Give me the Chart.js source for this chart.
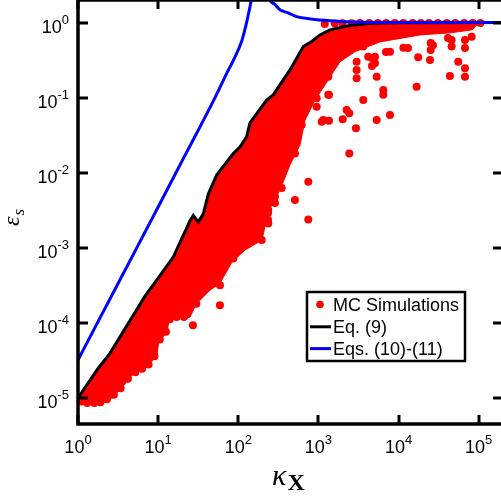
<!DOCTYPE html>
<html>
<head>
<meta charset="utf-8">
<script src="https://cdn.jsdelivr.net/npm/chart.js@4/dist/chart.umd.min.js"></script>
<style>
  html, body { margin: 0; padding: 0; background: #fff; }
  #wrap { width: 501px; height: 496px; }
</style>
</head>
<body>
<div id="wrap"><canvas id="c" width="501" height="496"></canvas></div>
<script>
// Decade ticks on both log axes
const xTickValues = [1, 10, 100, 1e3, 1e4, 1e5];
const xTickExponents = ['0', '1', '2', '3', '4', '5'];
const yTickValues = [1e-5, 1e-4, 1e-3, 1e-2, 1e-1, 1];
const yTickExponents = ['-5', '-4', '-3', '-2', '-1', '0'];

// Eq. (9)
const eq9X = [1, 1.78, 2.49, 6.86, 9.6, 15.5, 25, 27.5, 31.7, 36.6, 42.3, 53.7, 86.7, 105, 127, 140, 226, 273, 442, 648, 824, 1047, 1394, 2253, 4400, 1e4, 1.9e5];
const eq9Y = [1.0e-5, 2.47e-5, 3.9e-5, 2.27e-4, 3.7e-4, 7.6e-4, 2.3e-3, 2.7e-3, 2.2e-3, 2.83e-3, 5.2e-3, 9.3e-3, 1.8e-2, 2.2e-2, 3.0e-2, 4.6e-2, 9.3e-2, 0.109, 0.234, 0.48, 0.56, 0.685, 0.80, 0.90, 0.98, 0.995, 1.0];

// Eqs. (10)-(11): two branches either side of the pole (null breaks the line)
const eq1011X = [1, 2, 5, 10, 20, 50, 70, 90, 110, 120, 127, 135, 142, 148, 200, 215, 235, 249, 280, 331, 420, 535, 800, 1393, 3600, 1e4, 1.9e5];
const eq1011Y = [3.2e-5, 1.32e-4, 8.5e-4, 3.5e-3, 1.45e-2, 9.5e-2, 0.2, 0.34, 0.56, 0.78, 1.0, 1.35, 1.75, 2.3, null, 5.0, 3.0, 2.0, 1.78, 1.48, 1.35, 1.20, 1.12, 1.06, 1.01, 1.0, 1.0];

// Saturated core of the MC cloud: top and bottom edges, both left to right
const mcCoreTopX = [1, 1.78, 2.49, 6.86, 9.6, 15.5, 25, 27.5, 31.7, 36.6, 42.3, 53.7, 86.7, 105, 127, 140, 226, 273, 442, 648, 824, 1047, 1394, 2253, 4400, 1e4, 9.8e4];
const mcCoreTopY = [1.0e-5, 2.47e-5, 3.9e-5, 2.27e-4, 3.7e-4, 7.6e-4, 2.3e-3, 2.7e-3, 2.2e-3, 2.83e-3, 5.2e-3, 9.3e-3, 1.8e-2, 2.2e-2, 3.0e-2, 4.6e-2, 9.3e-2, 0.109, 0.234, 0.48, 0.56, 0.685, 0.80, 0.90, 0.98, 0.99, 0.99];
const mcCoreBottomX = [1, 1.41, 1.88, 2.73, 3.64, 4.86, 7.26, 9.68, 10.25, 12.9, 13.66, 25.0, 29.7, 44.4, 59.1, 83.5, 121, 198, 235, 332, 442, 589, 680, 907, 1208, 1858, 2860, 5860, 1.85e4, 4.39e4, 8.25e4, 9.8e4];
const mcCoreBottomY = [8.5e-6, 8.2e-6, 8.2e-6, 1.02e-5, 1.43e-5, 2.07e-5, 2.57e-5, 3.71e-5, 5.88e-5, 7.3e-5, 1.09e-4, 1.19e-4, 1.77e-4, 2.73e-4, 3.38e-4, 6.44e-4, 9.3e-4, 1.27e-3, 2.99e-3, 5.9e-3, 1.27e-2, 2.34e-2, 5.0e-2, 9.3e-2, 0.148, 0.30, 0.41, 0.553, 0.685, 0.73, 0.80, 0.96];

// Individual MC runs around the core
const mcX = [
  1.0, 1.1, 1.3, 1.6, 1.9, 2.3, 2.8, 3.4, 4.2, 5.2, 6.3, 7.6, 9.0,
  10.5, 12.5, 14.0, 17.0, 21.0, 27.2, 30, 44.4, 59.1, 59.1, 86.7,
  105, 105, 127, 133, 140, 162, 170, 196, 196, 235, 235, 287, 348, 510, 748, 748,
  332, 316, 316, 287, 187, 237, 140, 178, 237, 133,
  442, 442, 510, 348, 348, 618, 618, 421, 510, 536, 618, 748,
  536, 618, 618, 952, 952, 1099, 1356, 1356, 2010, 2430, 2430, 2940,
  1395, 1328, 952, 952, 714, 907, 1328, 1151, 2253, 2253, 4190,
  3000, 3000, 3000, 3630, 3630, 5080, 5080, 5340, 5340, 6450, 6450, 7820, 7820,
  4660, 4660, 6970, 1.31e4, 2.69e4, 4.14e4, 6.75e4, 6.75e4,
  1.15e4, 1.68e4, 1.76e4, 2.47e4, 2.52e4, 2.52e4, 4.38e4, 4.6e4, 4.6e4, 5.56e4, 6.75e4, 6.75e4, 8.18e4,
  1200, 1600, 2000, 2600, 3300, 4300, 5500, 7000, 9000, 1.15e4, 1.5e4, 1.9e4, 2.4e4, 3.1e4, 4e4, 5.1e4, 6.6e4, 8.4e4, 1.05e5
];
const mcY = [
  1.0e-5, 9.0e-6, 8.6e-6, 8.6e-6, 8.8e-6, 9.6e-6, 1.1e-5, 1.35e-5, 1.8e-5, 2.2e-5, 2.45e-5, 2.8e-5, 3.6e-5,
  6.0e-5, 7.6e-5, 1.12e-4, 1.2e-4, 1.2e-4, 9.3e-5, 1.8e-4, 3.35e-4, 1.72e-4, 3.18e-4, 7.2e-4,
  1.15e-3, 3.35e-3, 4.33e-3, 1.63e-3, 2.13e-3, 1.57e-3, 1.56e-3, 1.27e-3, 4.33e-3, 2.34e-3, 2.9e-3, 3.95e-3, 6.25e-3, 4.33e-3, 7.6e-3, 2.39e-3,
  0.0273, 0.0156, 8.0e-3, 4.79e-3, 4.33e-3, 3.18e-3, 2.34e-3, 3.18e-3, 2.11e-3, 1.56e-3,
  0.0222, 0.0181, 0.0181, 0.0288, 0.037, 0.062, 0.0433, 0.039, 0.0531, 0.0759, 0.0842, 0.120,
  0.140, 0.0759, 0.0588, 0.098, 0.0759, 0.0479, 0.0493, 0.109, 0.0515, 0.0181, 0.062, 0.039,
  0.318, 0.19, 0.201, 0.247, 0.133, 0.127, 0.109, 0.0504, 0.0686, 0.433, 0.352,
  0.302, 0.234, 0.181, 0.093, 0.479, 0.352, 0.288, 0.19, 0.0505, 0.127, 0.109, 0.0587, 0.41,
  0.338, 0.265, 0.407, 0.46, 0.50, 0.625, 0.588, 0.46,
  0.464, 0.140, 0.346, 0.318, 0.433, 0.536, 0.195, 0.479, 0.588, 0.302, 0.19, 0.247, 0.65,
  0.96, 0.97, 0.98, 0.98, 0.985, 0.99, 0.99, 0.99, 0.99, 0.99, 0.99, 0.99, 0.99, 0.99, 0.99, 0.99, 0.99, 0.99, 0.99
];

const toPoints = (xs, ys) => xs.map((x, i) => ({ x: x, y: ys[i] }));

const RED = '#ff0000', BLUE = '#0000ff', BLACK = '#000000';

// Solid core of the MC cloud, traced through the chart's scales
const mcCore = {
  id: 'mcCore',
  beforeDatasetsDraw(chart) {
    const { ctx, chartArea: a, scales: { x, y } } = chart;
    ctx.save();
    ctx.beginPath();
    ctx.rect(a.left, a.top, a.right - a.left, a.bottom - a.top);
    ctx.clip();
    ctx.beginPath();
    mcCoreTopX.forEach((v, i) => {
      const px = x.getPixelForValue(v), py = y.getPixelForValue(mcCoreTopY[i]);
      if (i === 0) ctx.moveTo(px, py); else ctx.lineTo(px, py);
    });
    for (let i = mcCoreBottomX.length - 1; i >= 0; i--) {
      ctx.lineTo(x.getPixelForValue(mcCoreBottomX[i]), y.getPixelForValue(mcCoreBottomY[i]));
    }
    ctx.closePath();
    ctx.fillStyle = RED;
    ctx.fill();
    ctx.strokeStyle = RED;
    ctx.lineWidth = 1;
    ctx.stroke();
    ctx.restore();
  }
};

// Frame (left, top, bottom), inward ticks, tick labels with superscripts, axis titles and legend
const decorations = {
  id: 'decorations',
  afterDraw(chart) {
    const { ctx, chartArea: a, scales: { x, y } } = chart;
    ctx.save();
    ctx.strokeStyle = BLACK;
    ctx.lineWidth = 3.5;
    ctx.lineCap = 'square';
    ctx.beginPath();
    ctx.moveTo(a.right, a.top); ctx.lineTo(a.left, a.top);
    ctx.lineTo(a.left, a.bottom); ctx.lineTo(a.right, a.bottom);
    ctx.stroke();
    ctx.lineCap = 'butt';

    ctx.lineWidth = 3;
    ctx.beginPath();
    xTickValues.forEach(v => {
      const px = Math.round(x.getPixelForValue(v));
      ctx.moveTo(px, a.bottom); ctx.lineTo(px, a.bottom - 9);
      ctx.moveTo(px, a.top); ctx.lineTo(px, a.top + 9);
    });
    yTickValues.forEach(v => {
      const py = Math.round(y.getPixelForValue(v));
      ctx.moveTo(a.left, py); ctx.lineTo(a.left + 10, py);
      ctx.moveTo(a.right, py); ctx.lineTo(a.right - 8, py);
    });
    ctx.stroke();

    const baseFont = '18px "Liberation Sans", Arial, sans-serif';
    const expFont = '13px "Liberation Sans", Arial, sans-serif';
    ctx.fillStyle = BLACK;
    ctx.textBaseline = 'alphabetic';
    ctx.textAlign = 'left';
    const drawPow = (exp, left, baseline) => {
      ctx.font = baseFont;
      ctx.fillText('10', left, baseline);
      const w = ctx.measureText('10').width;
      ctx.font = expFont;
      ctx.fillText(exp, left + w, baseline - 9);
    };
    const powWidth = exp => {
      ctx.font = baseFont; const w1 = ctx.measureText('10').width;
      ctx.font = expFont; const w2 = ctx.measureText(exp).width;
      return w1 + w2;
    };
    xTickValues.forEach((v, i) => {
      const px = x.getPixelForValue(v);
      const w = powWidth(xTickExponents[i]);
      drawPow(xTickExponents[i], px - w / 2, a.bottom + 29);
    });
    yTickValues.forEach((v, i) => {
      const py = y.getPixelForValue(v);
      const w = powWidth(yTickExponents[i]);
      drawPow(yTickExponents[i], 69 - w, py + 10.5);
    });

    // x title: kappa with bold X subscript
    ctx.font = 'italic 30px "Liberation Serif", "DejaVu Serif", serif';
    ctx.fillText('κ', 272, 485);
    const kw = ctx.measureText('κ').width;
    ctx.font = 'bold 24px "Liberation Serif", "DejaVu Serif", serif';
    ctx.fillText('X', 272 + kw + 1, 490);

    // y title: epsilon with s subscript, rotated
    ctx.save();
    ctx.translate(19, 226);
    ctx.rotate(-Math.PI / 2);
    ctx.font = 'italic 24px "Liberation Serif", "DejaVu Serif", serif';
    ctx.fillText('ε', 0, 0);
    const ew = ctx.measureText('ε').width;
    ctx.font = 'italic 17px "Liberation Serif", "DejaVu Serif", serif';
    ctx.fillText('s', ew + 1, 5);
    ctx.restore();

    // legend
    const box = { l: 307, t: 292, r: 465, b: 361 };
    ctx.fillStyle = '#fff';
    ctx.fillRect(box.l, box.t, box.r - box.l, box.b - box.t);
    ctx.lineWidth = 2.5;
    ctx.strokeStyle = BLACK;
    ctx.strokeRect(box.l, box.t, box.r - box.l, box.b - box.t);
    const entries = chart.data.datasets.filter(ds => ds.label);
    ctx.font = '18px "Liberation Sans", Arial, sans-serif';
    ctx.textBaseline = 'middle';
    entries.forEach((ds, i) => {
      const cy = 305 + i * 21.8;
      if (ds.showLine === false) {
        ctx.fillStyle = ds.pointBackgroundColor;
        ctx.beginPath(); ctx.arc(320, cy - 0.5, 3.8, 0, Math.PI * 2); ctx.fill();
      } else {
        ctx.strokeStyle = ds.borderColor; ctx.lineWidth = 3;
        ctx.beginPath(); ctx.moveTo(310, cy); ctx.lineTo(331, cy); ctx.stroke();
      }
      ctx.fillStyle = BLACK;
      ctx.fillText(ds.label, 333, cy + 1);
    });
    ctx.restore();
  }
};

new Chart(document.getElementById('c'), {
  type: 'line',
  data: {
    datasets: [
      { label: 'MC Simulations', data: toPoints(mcX, mcY), showLine: false, pointRadius: 4, pointHoverRadius: 4,
        pointBackgroundColor: RED, pointBorderWidth: 0, borderColor: RED, order: 2 },
      { label: 'Eq. (9)', data: toPoints(eq9X, eq9Y), borderColor: BLACK, borderWidth: 3, pointRadius: 0,
        fill: false, tension: 0, order: 1 },
      { label: 'Eqs. (10)-(11)', data: toPoints(eq1011X, eq1011Y), borderColor: BLUE, borderWidth: 3, pointRadius: 0,
        fill: false, cubicInterpolationMode: 'monotone', spanGaps: false, order: 0 }
    ]
  },
  options: {
    responsive: false,
    animation: false,
    events: [],
    layout: { autoPadding: false, padding: { left: 78, right: 0, top: 0, bottom: 72 } },
    scales: {
      x: { type: 'logarithmic', min: 1, max: 1.9e5, display: false },
      y: { type: 'logarithmic', min: 4.5e-6, max: 2.0, display: false }
    },
    plugins: { legend: { display: false }, tooltip: { enabled: false } }
  },
  plugins: [mcCore, decorations]
});
</script>
</body>
</html>
